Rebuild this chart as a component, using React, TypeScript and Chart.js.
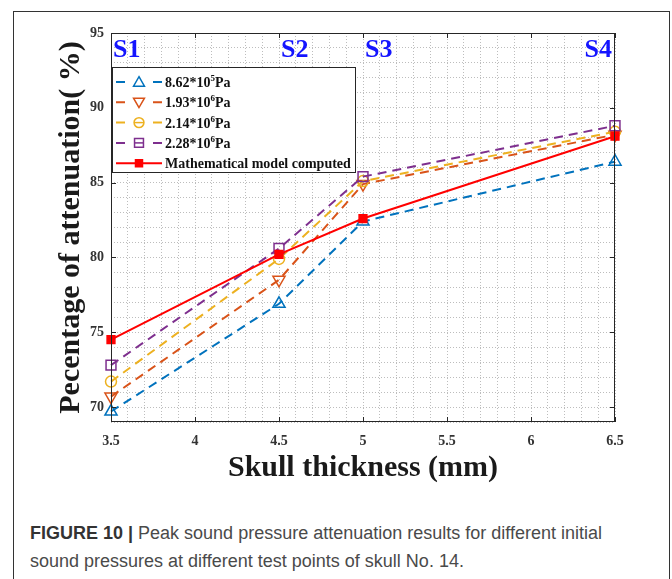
import React, { useEffect, useRef } from "react";
import { Chart, registerables } from "chart.js";

Chart.register(...registerables);

// ---- data ----
const thickness = [3.5, 4.5, 5, 6.5];
const pressure862e5 = [69.7, 76.9, 82.4, 86.4];
const pressure193e6 = [70.7, 78.5, 84.9, 88.2];
const pressure214e6 = [71.7, 79.9, 85.1, 88.4];
const pressure228e6 = [72.8, 80.6, 85.4, 88.8];
const modelComputed = [74.5, 80.2, 82.6, 88.1];
const testPoints = ["S1", "S2", "S3", "S4"];
const legendBase = ["8.62*10", "1.93*10", "2.14*10", "2.28*10", "Mathematical model computed"];
const legendExp = ["5", "6", "6", "6", ""];
const legendUnit = ["Pa", "Pa", "Pa", "Pa", ""];
const xMajorStep = 0.5;
const yMajorStep = 5;

const SERIF = '"Liberation Serif", "Times New Roman", serif';

const seriesStyle = [
  { color: "#0072BD", point: "triangle", rot: 0, radius: 7, dashed: true, filled: false, order: 4 },
  { color: "#D95319", point: "triangle", rot: 180, radius: 7, dashed: true, filled: false, order: 3 },
  { color: "#EDB120", point: "circle", rot: 0, radius: 5.5, dashed: true, filled: false, order: 2 },
  { color: "#7E2F8E", point: "rect", rot: 0, radius: 7, dashed: true, filled: false, order: 1 },
  { color: "#FF0000", point: "rect", rot: 0, radius: 5.5, dashed: false, filled: true, order: 0 },
];

function drawMarker(ctx: CanvasRenderingContext2D, style: string, x: number, y: number, r: number, rotDeg: number, color: string, filled: boolean) {
  ctx.save();
  ctx.beginPath();
  if (style === "triangle") {
    let rad = (rotDeg * Math.PI) / 180;
    ctx.moveTo(x + Math.sin(rad) * r, y - Math.cos(rad) * r);
    rad += (2 * Math.PI) / 3;
    ctx.lineTo(x + Math.sin(rad) * r, y - Math.cos(rad) * r);
    rad += (2 * Math.PI) / 3;
    ctx.lineTo(x + Math.sin(rad) * r, y - Math.cos(rad) * r);
    ctx.closePath();
  } else if (style === "circle") {
    ctx.arc(x, y, r, 0, Math.PI * 2);
  } else {
    const s = Math.SQRT1_2 * r;
    ctx.rect(x - s, y - s, 2 * s, 2 * s);
  }
  if (filled) {
    ctx.fillStyle = color;
    ctx.fill();
  }
  ctx.strokeStyle = color;
  ctx.lineWidth = 1.5;
  ctx.stroke();
  ctx.restore();
}

const decorPlugin = {
  id: "decor",
  afterDraw(chart: any) {
    const { ctx, chartArea: a, scales } = chart;
    const xs = scales.x;
    const ys = scales.y;
    ctx.save();

    // inward major tick marks on all four sides
    ctx.strokeStyle = "#262626";
    ctx.lineWidth = 1;
    const tl = 5;
    ctx.beginPath();
    xs.ticks.forEach((t: any) => {
      if (Math.abs(t.value / xMajorStep - Math.round(t.value / xMajorStep)) > 1e-6) return;
      const px = Math.round(xs.getPixelForValue(t.value)) + 0.5;
      ctx.moveTo(px, a.bottom);
      ctx.lineTo(px, a.bottom - tl);
      ctx.moveTo(px, a.top);
      ctx.lineTo(px, a.top + tl);
    });
    ys.ticks.forEach((t: any) => {
      if (Math.abs(t.value / yMajorStep - Math.round(t.value / yMajorStep)) > 1e-6) return;
      const py = Math.round(ys.getPixelForValue(t.value)) + 0.5;
      ctx.moveTo(a.left, py);
      ctx.lineTo(a.left + tl, py);
      ctx.moveTo(a.right, py);
      ctx.lineTo(a.right - tl, py);
    });
    ctx.stroke();

    // test point labels
    ctx.font = `bold 26px ${SERIF}`;
    ctx.fillStyle = "#1414ff";
    ctx.textBaseline = "alphabetic";
    testPoints.forEach((lab, i) => {
      const px = xs.getPixelForValue(thickness[i]);
      if (i === testPoints.length - 1) {
        ctx.textAlign = "right";
        ctx.fillText(lab, px - 3, a.top + 24);
      } else {
        ctx.textAlign = "left";
        ctx.fillText(lab, px + 2, a.top + 24);
      }
    });

    // legend box
    const lx = a.left + 1;
    const ly = a.top + 34;
    const lw = 243;
    const lh = 105;
    ctx.fillStyle = "#ffffff";
    ctx.fillRect(lx, ly, lw, lh);
    ctx.strokeStyle = "#262626";
    ctx.lineWidth = 1;
    ctx.strokeRect(lx + 0.5, ly + 0.5, lw, lh);

    legendBase.forEach((base, i) => {
      const st = seriesStyle[i];
      const cy = ly + 15 + i * 20.3;
      const x0 = lx + 4;
      const x1 = lx + 50;
      const cx = lx + 27;
      ctx.strokeStyle = st.color;
      ctx.lineWidth = 2;
      ctx.beginPath();
      if (st.dashed) {
        ctx.moveTo(x0, cy);
        ctx.lineTo(x0 + 9, cy);
        ctx.moveTo(x1 - 9, cy);
        ctx.lineTo(x1, cy);
      } else {
        ctx.moveTo(x0, cy);
        ctx.lineTo(x1, cy);
      }
      ctx.stroke();
      if (st.point === "circle" || (st.point === "rect" && !st.filled)) {
        ctx.beginPath();
        ctx.moveTo(cx - 5, cy);
        ctx.lineTo(cx + 5, cy);
        ctx.lineWidth = 1.5;
        ctx.stroke();
      }
      drawMarker(ctx, st.point, cx, cy + (st.point === "triangle" ? (st.rot ? -1 : 1) : 0), st.radius * 0.9, st.rot, st.color, st.filled);

      // text with superscript exponent
      ctx.fillStyle = "#111111";
      ctx.textAlign = "left";
      ctx.textBaseline = "alphabetic";
      let tx = lx + 53;
      const baseY = cy + 5;
      ctx.font = `bold 14px ${SERIF}`;
      ctx.fillText(base, tx, baseY);
      tx += ctx.measureText(base).width;
      if (legendExp[i]) {
        ctx.font = `bold 9px ${SERIF}`;
        ctx.fillText(legendExp[i], tx, baseY - 6);
        tx += ctx.measureText(legendExp[i]).width;
      }
      if (legendUnit[i]) {
        ctx.font = `bold 14px ${SERIF}`;
        ctx.fillText(legendUnit[i], tx, baseY);
      }
    });

    // axes box
    ctx.strokeStyle = "#262626";
    ctx.lineWidth = 1;
    ctx.strokeRect(a.left + 0.5, a.top + 0.5, a.right - a.left - 1, a.bottom - a.top - 1);
    ctx.restore();
  },
};

export default function App() {
  const canvasRef = useRef<HTMLCanvasElement | null>(null);

  useEffect(() => {
    const canvas = canvasRef.current;
    if (!canvas) return;
    const series = [pressure862e5, pressure193e6, pressure214e6, pressure228e6, modelComputed];
    const datasets = series.map((vals, i) => {
      const st = seriesStyle[i];
      return {
        label: legendBase[i] + legendExp[i] + legendUnit[i],
        data: thickness.map((x, j) => ({ x, y: vals[j] })),
        borderColor: st.color,
        backgroundColor: st.color,
        borderWidth: 2,
        borderDash: st.dashed ? [9, 6] : [],
        pointStyle: st.point,
        pointRotation: st.rot,
        pointRadius: st.radius,
        pointBorderWidth: 1.5,
        pointBorderColor: st.color,
        pointBackgroundColor: st.filled ? st.color : "rgba(255,255,255,0)",
        tension: 0,
        fill: false,
        clip: false,
        order: st.order,
      };
    });

    const chart = new Chart(canvas, {
      type: "line",
      data: { datasets: datasets as any },
      options: {
        responsive: false,
        animation: false,
        devicePixelRatio: 1,
        layout: { padding: { left: 0, top: 33, right: 57, bottom: 0 } },
        plugins: { legend: { display: false }, tooltip: { enabled: false } },
        scales: {
          x: {
            type: "linear",
            min: 3.5,
            max: 6.5,
            afterFit: (s: any) => {
              s.height = 78;
            },
            border: { display: false, dash: [1, 2] },
            grid: { color: "rgba(0,0,0,0.26)", lineWidth: 1, drawTicks: false },
            ticks: {
              stepSize: 0.1,
              maxTicksLimit: 100,
              autoSkip: false,
              maxRotation: 0,
              padding: 11,
              color: "#333333",
              font: { family: SERIF, size: 14, weight: "bold" },
              callback: (v: any) => {
                const n = Number(v);
                return Math.abs(n / xMajorStep - Math.round(n / xMajorStep)) < 1e-6 ? String(Number(n.toFixed(1))) : "";
              },
            },
            title: {
              display: true,
              text: "Skull thickness (mm)",
              color: "#1a1a1a",
              font: { family: SERIF, size: 30, weight: "bold" },
              padding: { top: 0, bottom: 14 },
            },
          },
          y: {
            type: "linear",
            min: 69,
            max: 95,
            afterFit: (s: any) => {
              s.width = 111;
            },
            border: { display: false, dash: [1, 2] },
            grid: { color: "rgba(0,0,0,0.26)", lineWidth: 1, drawTicks: false },
            ticks: {
              stepSize: 1,
              maxTicksLimit: 100,
              autoSkip: false,
              padding: 7,
              color: "#333333",
              font: { family: SERIF, size: 14, weight: "bold" },
              callback: (v: any) => {
                const n = Number(v);
                return Math.abs(n / yMajorStep - Math.round(n / yMajorStep)) < 1e-6 ? String(Math.round(n)) : "";
              },
            },
            title: {
              display: true,
              text: "Pecentage of attenuation( %)",
              color: "#1a1a1a",
              font: { family: SERIF, size: 30, weight: "bold" },
              padding: { top: 53, bottom: 0 },
            },
          },
        },
      },
      plugins: [decorPlugin],
    });
    return () => chart.destroy();
  }, []);

  return (
    <div style={{ position: "absolute", left: 0, top: 0, width: 672, height: 579, overflow: "hidden", background: "#fff" }}>
      <div
        style={{
          position: "absolute",
          left: 13,
          top: 11,
          width: 657,
          height: 580,
          borderLeft: "1px solid #333",
          borderTop: "1px solid #333",
          borderRight: "1px solid #333",
          boxSizing: "border-box",
        }}
      />
      <canvas ref={canvasRef} width={672} height={500} style={{ position: "absolute", left: 0, top: 0, display: "block" }} />
      <div
        style={{
          position: "absolute",
          left: 30,
          top: 519,
          width: 630,
          fontFamily: '"Liberation Sans", Arial, sans-serif',
          fontSize: 18,
          lineHeight: "28px",
          color: "#4a4a4a",
          whiteSpace: "nowrap",
        }}
      >
        <span style={{ fontWeight: 700, color: "#333" }}>FIGURE 10 |</span> Peak sound pressure attenuation results for different initial
        <br />
        sound pressures at different test points of skull No. 14.
      </div>
    </div>
  );
}
